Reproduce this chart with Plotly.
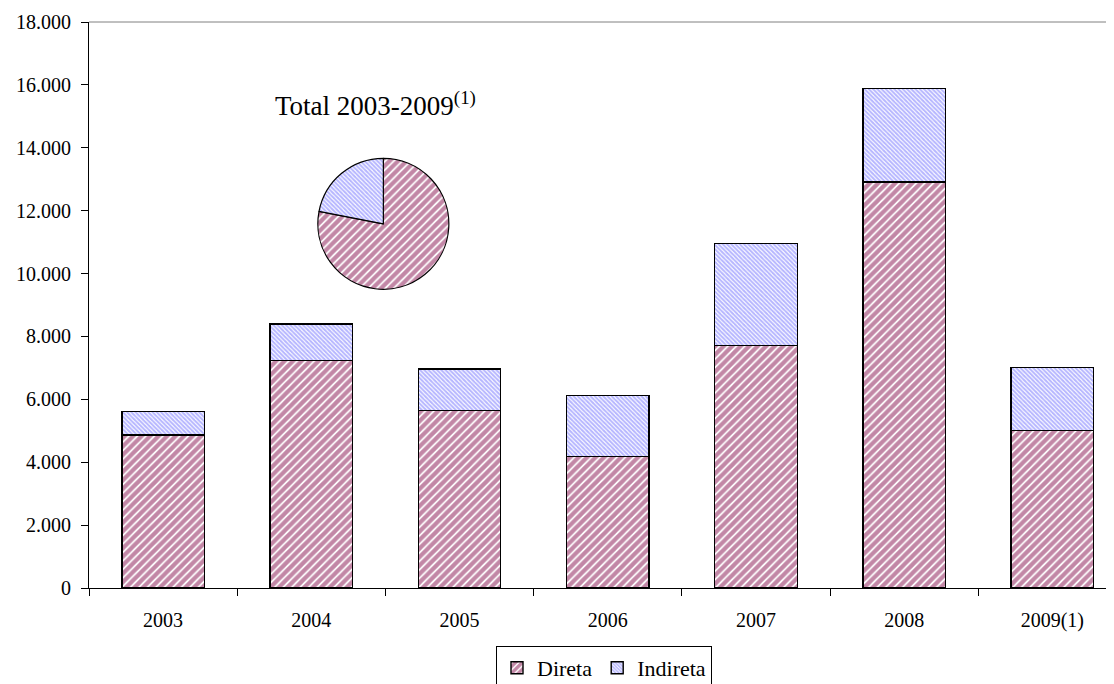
import plotly.graph_objects as go

categories = ["2003", "2004", "2005", "2006", "2007", "2008", "2009(1)"]
direta = [4865, 7227, 5647, 4175, 7714, 12909, 5002]
total = [5606, 8394, 6963, 6114, 10957, 15876, 7014]
indireta = [t - d for t, d in zip(total, direta)]
y_ticks = [0, 2000, 4000, 6000, 8000, 10000, 12000, 14000, 16000, 18000]

FONT = "Liberation Serif, serif"
MAROON = "#86104E"
LAV = "#6E6EFF"

# plot-area edges in screen pixels (page has an 8px body margin)
OFF = 8
L, R, T, B = 89, 1114, 22, 588
PW, PH = R - L, B - T
FIG_W, FIG_H = 1114 - OFF, 684 - OFF


def px_x(x):
    return (x - L) / PW


def px_y(y):
    return (B - y) / PH


fig = go.Figure()
fig.add_trace(go.Bar(
    x=categories, y=direta, name="Direta",
    marker=dict(color="white", line=dict(color="black", width=1.4),
                pattern=dict(shape="/", fgcolor=MAROON, bgcolor="white", size=6, solidity=0.7, fillmode="overlay")),
))
fig.add_trace(go.Bar(
    x=categories, y=indireta, name="Indireta",
    marker=dict(color="white", line=dict(color="black", width=1.4),
                pattern=dict(shape="\\", fgcolor=LAV, bgcolor="white", size=3, solidity=0.65, fillmode="overlay")),
))
fig.add_trace(go.Pie(
    labels=["Direta", "Indireta"], values=[sum(direta), sum(indireta)],
    sort=False, direction="clockwise", rotation=0, showlegend=False,
    textinfo="none", hoverinfo="label+value",
    domain=dict(x=[px_x(317.7), px_x(449)], y=[px_y(289.3), px_y(158.3)]),
    marker=dict(colors=["white", "white"], line=dict(color="black", width=1.2),
                pattern=dict(shape=["/", "\\"], fgcolor=[MAROON, LAV], bgcolor=["white", "white"],
                             size=[6, 3], solidity=[0.7, 0.65], fillmode="overlay")),
))

fig.add_annotation(text="Total 2003-2009<sup>(1)</sup>", x=px_x(273), y=px_y(104),
                   xref="paper", yref="paper", xanchor="left", yanchor="middle",
                   showarrow=False, font=dict(family=FONT, size=27, color="black"))

fig.add_shape(type="line", xref="paper", yref="paper", x0=0, x1=1, y0=1, y1=1,
              line=dict(color="#808080", width=1))

fig.update_layout(
    width=FIG_W, height=FIG_H,
    margin=dict(l=L - OFF, r=FIG_W - (R - OFF), t=T - OFF, b=FIG_H - (B - OFF), autoexpand=False),
    barmode="stack", bargap=0.443,
    paper_bgcolor="white", plot_bgcolor="white",
    separators=",.",
    font=dict(family=FONT, size=20, color="black"),
    legend=dict(orientation="h", x=px_x(604), y=px_y(646), xanchor="center", yanchor="top",
                traceorder="normal",
                bordercolor="black", borderwidth=1, font=dict(family=FONT, size=22, color="black"),
                itemwidth=30, tracegroupgap=0),
    xaxis=dict(range=[-0.5, 6.416], tickson="boundaries", ticks="outside", ticklen=7,
               tickcolor="black", showline=True, linecolor="black", linewidth=1,
               showgrid=False, automargin=False, ticklabelstandoff=14,
               tickfont=dict(family=FONT, size=20)),
    yaxis=dict(range=[0, 18000], tickvals=y_ticks, tickformat=",d", ticks="outside", ticklen=7,
               tickcolor="black", showline=True, linecolor="black", linewidth=1,
               showgrid=False, zeroline=False, automargin=False, ticklabelstandoff=6,
               tickfont=dict(family=FONT, size=20)),
)

fig.write_html("out.html")
